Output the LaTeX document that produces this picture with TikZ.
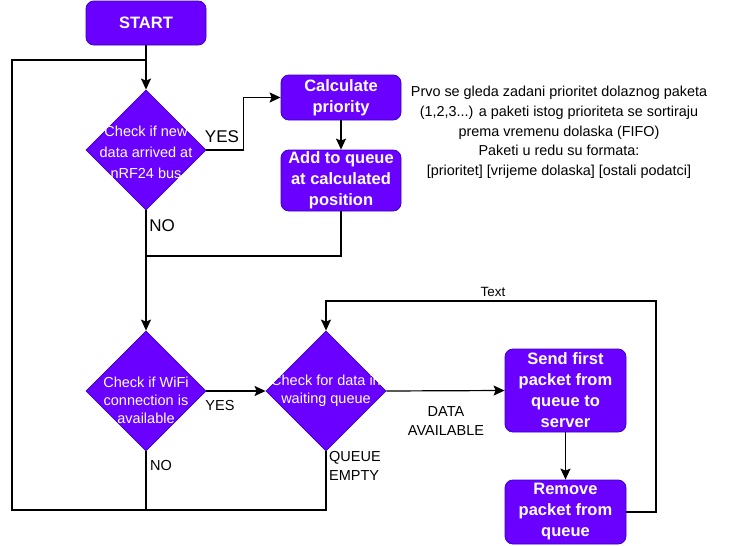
\documentclass[tikz,border=0pt]{standalone}
\usepackage{fontspec}
\setmainfont{Liberation Sans}
\usetikzlibrary{shapes.geometric,arrows.meta}
\definecolor{pfill}{HTML}{6A00FF}
\definecolor{pdraw}{HTML}{3700CC}
\begin{document}
\begin{tikzpicture}[x=1pt,y=-1pt,
 box/.style={draw=pdraw, fill=pfill, rounded corners=8pt, text=white, font=\fontsize{16.5}{21}\selectfont\bfseries, align=center, inner sep=0pt, line width=0.8pt},
 dia/.style={draw=pdraw, fill=pfill, diamond, minimum width=120pt, minimum height=120pt, inner sep=0pt, line width=0.8pt, aspect=1},
 dtext/.style={text=white, font=\fontsize{14.5}{18}\selectfont, align=center, inner sep=0pt},
 lbl/.style={font=\fontsize{14.5}{19}\selectfont, inner sep=0pt, align=center},
 biglbl/.style={font=\fontsize{17}{20}\selectfont, inner sep=0pt},
 conn/.style={line width=1.2pt},
 arr/.style={conn, -{Stealth[length=11pt,width=10pt,inset=2pt]}}]
\useasboundingbox (0,0) rectangle (732,546);
\fill[white] (0,0) rectangle (732,546);

% nodes
\node[box, minimum width=120pt, minimum height=44pt] (start) at (146,23) {START};
\node[box, minimum width=120pt, minimum height=45pt] (calc) at (341,97.5) {Calculate\\priority};
\node[box, minimum width=120pt, minimum height=61pt] (add) at (341,180.5) {Add to queue\\at calculated\\position};
\node[box, minimum width=121pt, minimum height=83pt] (send) at (565.5,390.5) {Send first\\packet from\\queue to\\server};
\node[box, minimum width=121pt, minimum height=64pt] (remove) at (565.5,512) {Remove\\packet from\\queue};

\node[dia] (d1) at (146,150) {};
\node[dtext, font=\fontsize{14.5}{21}\selectfont] (d1t) at (146,152.5) {Check if new\\data arrived at\\nRF24 bus};
\node[dia] (d2) at (146,391) {};
\node[dtext] (d2t) at (146,400) {Check if WiFi\\connection is\\available};
\node[dia] (d3) at (326,391) {};
\node[dtext] (d3t) at (326,391) {Check for data in\\waiting queue};

\node[font=\fontsize{14.4}{19.7}\selectfont, align=center, inner sep=0pt] (note) at (559,132.5) {Prvo se gleda zadani prioritet dolaznog paketa\\(1,2,3...) a paketi istog prioriteta se sortiraju\\prema vremenu dolaska (FIFO)\\Paketi u redu su formata:\\{[prioritet] [vrijeme dolaska] [ostali podatci]}};

% coordinates
\coordinate (tl) at (12,60);
\coordinate (bl) at (12,510);
\coordinate (j1) at (146,60);
\coordinate (j2) at (146,256);
\coordinate (rt) at (656,301);

% connectors
\draw[arr] (start.south) -- (d1.north);
\draw[conn] (d3.south) |- (bl) -- (tl) -- (j1);
\draw[conn] (d2.south) -- (d2.south |- bl);
\draw[arr] (d1.east) -- ++(37,0) |- (calc.west);
\draw[arr] (calc) -- (add);
\draw[conn] (add.south) |- (j2);
\draw[arr] (d1.south) -- (d2.north);
\draw[arr] (d2.east) -- (d3.west);
\draw[arr] (d3.east) -- (send.west);
\draw[arr] (send) -- (remove);
\draw[arr] (remove.east) -| (rt) -| (d3.north);

% labels
\node[biglbl] (lyes1) at (222,137) {YES};
\node[biglbl] (lno1) at (162,226) {NO};
\node[lbl] (lyes2) at (220,406) {YES};
\node[lbl] (lno2) at (161,466) {NO};
\node[lbl] (ldata) at (446,421) {DATA\\AVAILABLE};
\node[lbl, anchor=west, align=left] (lqueue) at (329,465.5) {QUEUE\\EMPTY};
\node[font=\fontsize{13.4}{16}\selectfont, inner sep=0pt] (ltext) at (493,292) {Text};
\end{tikzpicture}
\end{document}
